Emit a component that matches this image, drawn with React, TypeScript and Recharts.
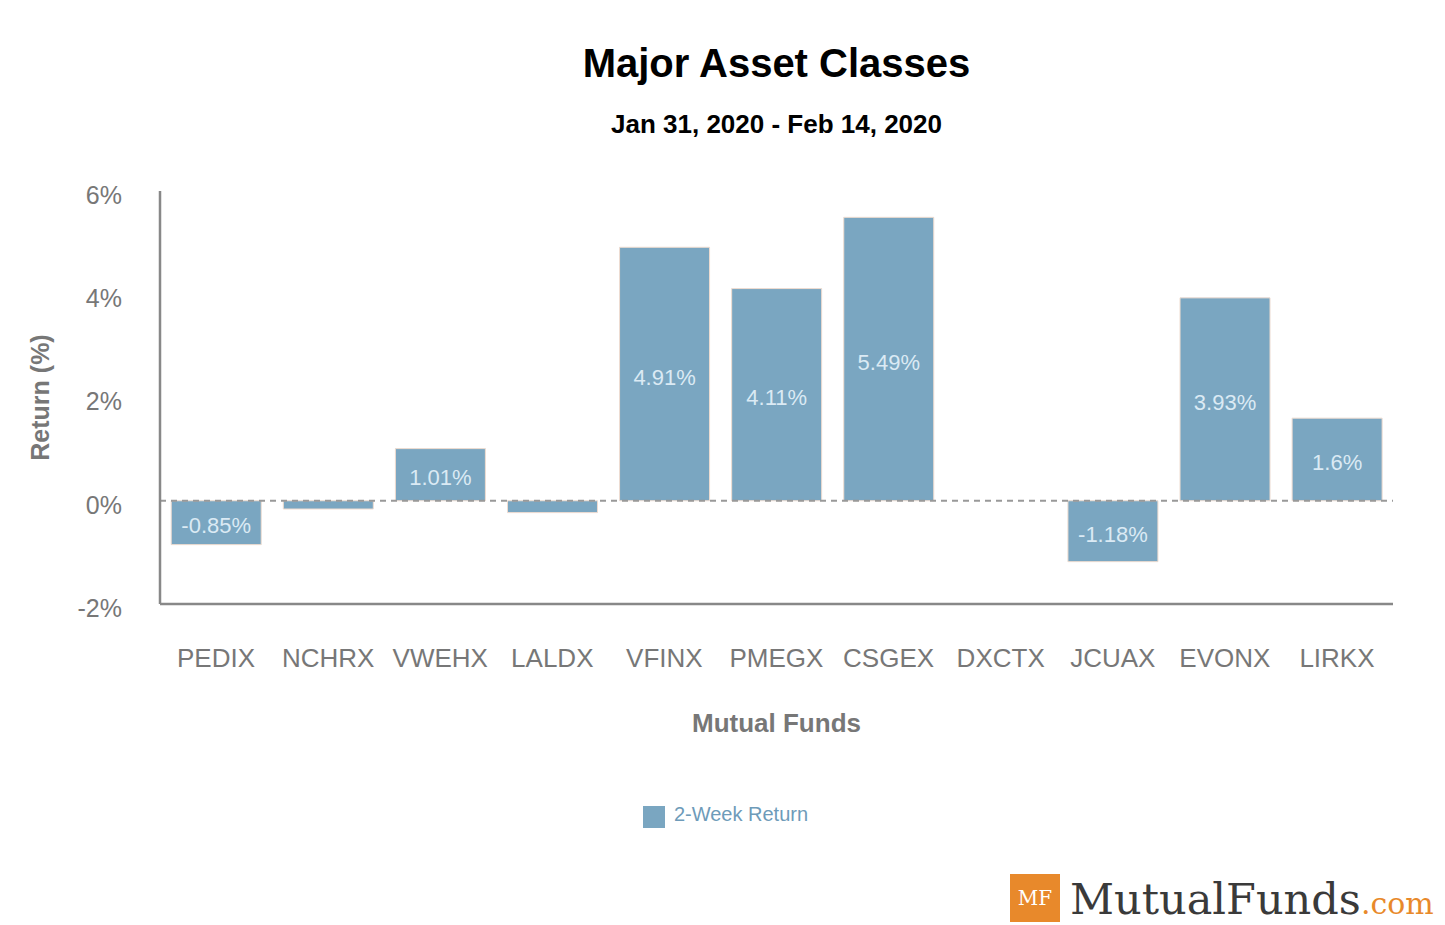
import { BarChart, Bar, XAxis, YAxis, ReferenceLine, Legend, LabelList } from 'recharts'

const funds = ['PEDIX', 'NCHRX', 'VWEHX', 'LALDX', 'VFINX', 'PMEGX', 'CSGEX', 'DXCTX', 'JCUAX', 'EVONX', 'LIRKX']
const returns = [-0.85, -0.16, 1.01, -0.23, 4.91, 4.11, 5.49, 0, -1.18, 3.93, 1.6]
const yTicks = [-2, 0, 2, 4, 6]

const data = funds.map((name, i) => ({ name, value: returns[i] }))

const sans = '"Liberation Sans", Arial, Helvetica, sans-serif'
const barColor = '#7aa6c1'

// labels only fit inside the taller bars
const renderBarLabel = (props: any) => {
  const { x, y, width, height, value } = props
  if (Math.abs(value) < 0.5) return null
  return (
    <text
      x={x + width / 2}
      y={y + height / 2 + 3}
      textAnchor="middle"
      dominantBaseline="central"
      fill="#dbeaf4"
      fontSize={22}
      fontFamily={sans}
    >
      {value}%
    </text>
  )
}

const App = () => {
  return (
    <div style={{ position: 'absolute', top: 0, left: 0, width: 1445, height: 925, background: '#fff', fontFamily: sans }}>
      <div style={{ position: 'absolute', top: 43, left: 0, width: 1553, textAlign: 'center', fontSize: 40, lineHeight: '40px', fontWeight: 'bold', color: '#000' }}>
        Major Asset Classes
      </div>
      <div style={{ position: 'absolute', top: 111, left: 0, width: 1553, textAlign: 'center', fontSize: 26, lineHeight: '26px', fontWeight: 'bold', color: '#000' }}>
        Jan 31, 2020 - Feb 14, 2020
      </div>

      <BarChart
        width={1445}
        height={925}
        data={data}
        margin={{ top: 191, right: 52, bottom: 40, left: 0 }}
        barCategoryGap="10%"
      >
        <XAxis
          dataKey="name"
          height={241}
          tickLine={false}
          tickSize={0}
          tickMargin={45}
          axisLine={{ stroke: '#888', strokeWidth: 2.5 }}
          tick={{ fill: '#777', fontSize: 26, fontFamily: sans }}
          interval={0}
          label={{ value: 'Mutual Funds', position: 'center', dy: -2, fill: '#777', fontSize: 26, fontWeight: 'bold', fontFamily: sans }}
        />
        <YAxis
          width={160}
          domain={[-2, 6]}
          ticks={yTicks}
          tickFormatter={(v: number) => `${v}%`}
          tickLine={false}
          tickSize={0}
          tickMargin={38}
          axisLine={{ stroke: '#888', strokeWidth: 2.5 }}
          tick={{ fill: '#777', fontSize: 25, fontFamily: sans, dy: 4 }}
          label={{ value: 'Return (%)', angle: -90, position: 'center', dx: -40, fill: '#777', fontSize: 25, fontWeight: 'bold', fontFamily: sans }}
        />
        <Legend
          verticalAlign="bottom"
          iconType="square"
          iconSize={22}
          wrapperStyle={{ height: 40, top: 803, left: 34 }}
          formatter={(v: string) => <span style={{ color: '#6e9bb9', fontSize: 20, fontFamily: sans, marginLeft: 5 }}>{v}</span>}
        />
        <Bar dataKey="value" name="2-Week Return" fill={barColor} stroke="#efdcd0" strokeWidth={1} isAnimationActive={false}>
          <LabelList dataKey="value" content={renderBarLabel} />
        </Bar>
        <ReferenceLine y={0} stroke="#999" strokeWidth={2} strokeDasharray="6 5" />
      </BarChart>

      <div style={{ position: 'absolute', left: 1010, top: 874, width: 50, height: 48, background: '#e8892b', color: '#fff', fontFamily: '"DejaVu Serif", serif', fontSize: 20, lineHeight: '48px', textAlign: 'center' }}>
        MF
      </div>
      <div style={{ position: 'absolute', left: 1070, top: 871, fontFamily: '"DejaVu Serif", serif', fontSize: 43, lineHeight: '56px', color: '#3a3a3a', whiteSpace: 'nowrap' }}>
        MutualFunds<span style={{ color: '#e8892b', fontSize: 30 }}>.com</span>
      </div>
    </div>
  )
}

export default App
